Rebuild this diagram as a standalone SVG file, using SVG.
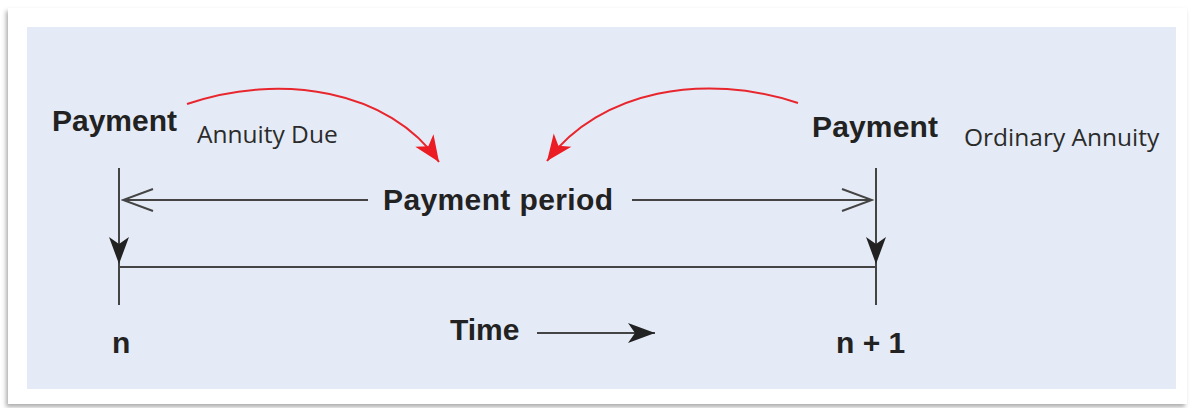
<svg xmlns="http://www.w3.org/2000/svg" width="1192" height="408" viewBox="0 0 1192 408">
  <defs>
    <style>
      .bold { font-family: "Liberation Sans", Arial, sans-serif; font-weight: bold; font-size: 30px; fill: #222; }
      .note { font-family: "Open Sans", "Liberation Sans", sans-serif; font-size: 24.5px; fill: #2b2b2b; }
      .axis { stroke: #444; stroke-width: 2; fill: none; }
      .curve { stroke: #e8262d; stroke-width: 2; fill: none; }
    </style>
    <filter id="frameShadow" x="-5%" y="-5%" width="110%" height="115%">
      <feDropShadow dx="-2" dy="3" stdDeviation="2" flood-color="#777" flood-opacity="0.6"/>
    </filter>
    <!-- solid barbed arrowhead, tip at origin pointing +x -->
    <marker id="solidHead" markerUnits="userSpaceOnUse" viewBox="-28 -11 30 22" refX="0" refY="0" markerWidth="30" markerHeight="22" orient="auto">
      <path d="M0,0 L-27,-10 L-20,0 L-27,10 Z" fill="#222"/>
    </marker>
    <!-- open chevron arrowhead -->
    <marker id="openHead" markerUnits="userSpaceOnUse" viewBox="-32 -13 34 26" refX="0" refY="0" markerWidth="34" markerHeight="26" orient="auto">
      <path d="M-30,-11 L0,0 L-30,11" fill="none" stroke="#444" stroke-width="2"/>
    </marker>
    <!-- red barbed arrowhead -->
    <marker id="redHead" markerUnits="userSpaceOnUse" viewBox="-28 -13 30 26" refX="0" refY="0" markerWidth="30" markerHeight="26" orient="auto">
      <path d="M0,0 L-26,-11 L-19,0 L-26,11 Z" fill="#ec1c24"/>
    </marker>
  </defs>

  <!-- page frame and panel -->
  <rect x="0" y="0" width="1192" height="408" fill="#ffffff"/>
  <rect x="8" y="8" width="1179" height="396" fill="#ffffff" filter="url(#frameShadow)"/>
  <rect x="27" y="27" width="1149" height="362" fill="#e5ebf6"/>

  <!-- connectors -->
  <g id="connectors">
    <!-- period ticks at n and n + 1 -->
    <line class="axis" x1="119" y1="168" x2="119" y2="305"/>
    <line class="axis" x1="876" y1="168" x2="876" y2="305"/>
    <path class="axis" d="M119,220 L119,264" marker-end="url(#solidHead)"/>
    <path class="axis" d="M876,220 L876,264" marker-end="url(#solidHead)"/>
    <!-- time line -->
    <line class="axis" x1="119" y1="267" x2="876" y2="267"/>
    <!-- payment period span -->
    <path class="axis" d="M368,200 L123,200" marker-end="url(#openHead)"/>
    <path class="axis" d="M632,200 L872,200" marker-end="url(#openHead)"/>
    <!-- time direction -->
    <path class="axis" d="M537,333 L655,333" marker-end="url(#solidHead)"/>
    <!-- annuity timing curves -->
    <path class="curve" d="M187,104 C280,72 390,90 439,162" marker-end="url(#redHead)"/>
    <path class="curve" d="M798,103 C705,72 600,90 547,161" marker-end="url(#redHead)"/>
  </g>

  <g id="payment-start">
    <text class="bold" x="52" y="131" textLength="125">Payment</text>
    <text class="note" x="197" y="143">Annuity Due</text>
  </g>
  <g id="payment-end">
    <text class="bold" x="812" y="137" textLength="126">Payment</text>
    <text class="note" x="964" y="146">Ordinary Annuity</text>
  </g>
  <g id="payment-period">
    <text class="bold" x="383" y="210" textLength="230">Payment period</text>
  </g>
  <g id="time-label">
    <text class="bold" x="450" y="340">Time</text>
  </g>
  <g id="point-n">
    <text class="bold" x="112" y="353">n</text>
  </g>
  <g id="point-n1">
    <text class="bold" x="836" y="353">n + 1</text>
  </g>
</svg>
